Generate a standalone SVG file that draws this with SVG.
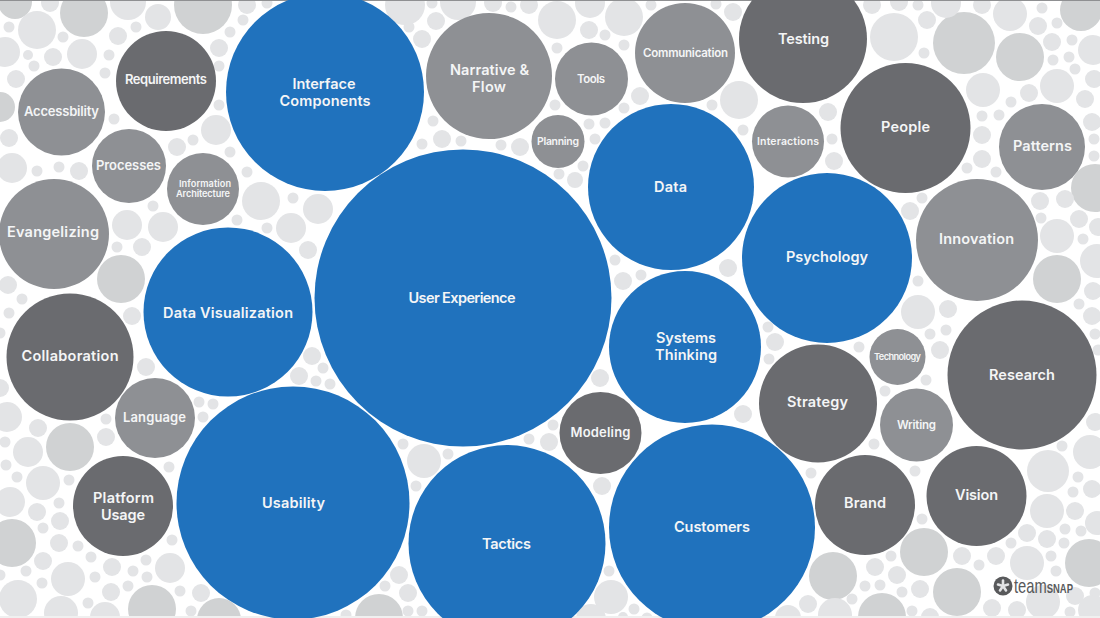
<svg xmlns="http://www.w3.org/2000/svg" width="1100" height="618" viewBox="0 0 1100 618">
<style>
.l{fill:#e3e4e6}.d{fill:#d0d2d3}
.blue{fill:#2072bd}.dark{fill:#6a6b6f}.mid{fill:#8e9094}
text{font-family:"Inter","Liberation Sans",sans-serif;font-weight:600;fill:#f4f5f6;text-anchor:middle}
.s13{font-size:14.5px}.s12{font-size:13px}.s10{font-size:11.5px}.s9{font-size:10.5px}.s8{font-size:9.2px}
.logo{text-anchor:start;font-family:"Liberation Sans",sans-serif;font-weight:400;font-size:21px;fill:#58595b}
.logo tspan{font-weight:700;font-size:13.5px}
</style>
<rect width="1100" height="618" fill="#fff"/>
<g id="background">
<g class="d">
<circle cx="15" cy="2" r="17"/><circle cx="84" cy="13" r="24"/><circle cx="203" cy="5" r="29"/><circle cx="0" cy="107" r="15"/><circle cx="121" cy="279" r="24"/><circle cx="70" cy="447" r="24"/><circle cx="12" cy="543" r="24"/><circle cx="152" cy="609" r="24"/><circle cx="219" cy="620" r="22"/><circle cx="379" cy="618" r="24"/><circle cx="1081" cy="10" r="21"/><circle cx="964" cy="43" r="31"/><circle cx="1020" cy="57" r="24"/><circle cx="1095" cy="188" r="24"/><circle cx="1057" cy="279" r="24"/><circle cx="1089" cy="563" r="24"/><circle cx="924" cy="552" r="24"/><circle cx="833" cy="576" r="24"/><circle cx="957" cy="592" r="24"/><circle cx="882" cy="617" r="24"/>
</g>
<g class="l">
<circle cx="37" cy="30" r="19"/><circle cx="50" cy="3" r="9"/><circle cx="128" cy="2" r="18"/><circle cx="158" cy="17" r="13"/><circle cx="247" cy="5" r="9"/><circle cx="243" cy="20" r="5.5"/><circle cx="230" cy="32" r="5.5"/><circle cx="267" cy="3" r="5.5"/><circle cx="9" cy="27" r="5.5"/><circle cx="5" cy="52" r="15"/><circle cx="28" cy="55" r="5"/><circle cx="34" cy="66" r="5.5"/><circle cx="53" cy="57" r="9"/><circle cx="63" cy="37" r="5.5"/><circle cx="82" cy="54" r="15"/><circle cx="118" cy="36" r="9"/><circle cx="136" cy="27" r="5.5"/><circle cx="109" cy="55" r="5.5"/><circle cx="105" cy="73" r="5.5"/><circle cx="16" cy="79" r="9"/><circle cx="219" cy="48" r="9"/><circle cx="219" cy="66" r="5.5"/><circle cx="219" cy="105" r="5.5"/><circle cx="216" cy="130" r="15"/><circle cx="193" cy="140" r="5.5"/><circle cx="177" cy="147" r="9"/><circle cx="230" cy="152" r="5.5"/><circle cx="247" cy="172" r="5.5"/><circle cx="114" cy="119" r="5.5"/><circle cx="9" cy="138" r="9"/><circle cx="12" cy="168" r="15"/><circle cx="37" cy="171" r="5.5"/><circle cx="59" cy="167" r="5.5"/><circle cx="79" cy="171" r="9"/><circle cx="153" cy="206" r="5.5"/><circle cx="127" cy="225" r="15"/><circle cx="163" cy="227" r="15"/><circle cx="117" cy="247" r="5.5"/><circle cx="142" cy="247" r="9"/><circle cx="8" cy="285" r="9"/><circle cx="22" cy="299" r="5.5"/><circle cx="237" cy="220" r="5.5"/><circle cx="261" cy="201" r="19"/><circle cx="293" cy="198" r="5.5"/><circle cx="267" cy="228" r="5.5"/><circle cx="291" cy="228" r="15"/><circle cx="318" cy="209" r="15"/><circle cx="308" cy="250" r="9"/>
<circle cx="9" cy="313" r="5.5"/><circle cx="0" cy="333" r="5.5"/><circle cx="132" cy="316" r="9"/><circle cx="146" cy="367" r="9"/><circle cx="0" cy="388" r="9"/><circle cx="7" cy="417" r="15"/><circle cx="38" cy="428" r="9"/><circle cx="106" cy="419" r="5.5"/><circle cx="199" cy="402" r="5.5"/><circle cx="213" cy="404" r="5.5"/><circle cx="203" cy="417" r="5.5"/><circle cx="312" cy="356" r="9"/><circle cx="323" cy="368" r="5.5"/><circle cx="299" cy="376" r="9"/><circle cx="316" cy="381" r="5.5"/><circle cx="330" cy="384" r="5.5"/>
<circle cx="5" cy="442" r="5.5"/><circle cx="28" cy="452" r="15"/><circle cx="106" cy="437" r="9"/><circle cx="6" cy="465" r="5.5"/><circle cx="17" cy="477" r="5.5"/><circle cx="43" cy="483" r="17"/><circle cx="69" cy="480" r="5.5"/><circle cx="169" cy="467" r="5.5"/><circle cx="10" cy="502" r="15"/><circle cx="59" cy="503" r="5.5"/><circle cx="37" cy="512" r="9"/><circle cx="60" cy="521" r="9"/><circle cx="43" cy="528" r="5.5"/><circle cx="59" cy="543" r="9"/><circle cx="78" cy="546" r="5.5"/><circle cx="172" cy="540" r="5.5"/><circle cx="91" cy="557" r="5.5"/><circle cx="43" cy="561" r="9"/><circle cx="26" cy="571" r="5.5"/><circle cx="0" cy="575" r="5.5"/><circle cx="68" cy="579" r="17"/><circle cx="112" cy="567" r="9"/><circle cx="146" cy="560" r="5.5"/><circle cx="133" cy="571" r="5.5"/><circle cx="95" cy="577" r="5.5"/><circle cx="147" cy="577" r="5.5"/><circle cx="170" cy="568" r="15"/><circle cx="42" cy="583" r="5.5"/><circle cx="18" cy="599" r="19"/><circle cx="111" cy="592" r="9"/><circle cx="128" cy="586" r="5.5"/><circle cx="180" cy="591" r="5.5"/><circle cx="201" cy="593" r="9"/><circle cx="61" cy="613" r="17"/><circle cx="88" cy="603" r="5.5"/><circle cx="105" cy="617" r="15"/><circle cx="191" cy="611" r="5.5"/>
<circle cx="403" cy="444" r="5.5"/><circle cx="424" cy="461" r="17"/><circle cx="448" cy="454" r="5.5"/><circle cx="416" cy="486" r="5.5"/><circle cx="399" cy="575" r="9"/><circle cx="385" cy="586" r="5.5"/><circle cx="408" cy="593" r="9"/><circle cx="346" cy="615" r="5.5"/><circle cx="408" cy="611" r="5.5"/><circle cx="422" cy="611" r="5.5"/><circle cx="600" cy="378" r="9"/><circle cx="553" cy="425" r="5.5"/><circle cx="529" cy="439" r="5.5"/><circle cx="549" cy="442" r="9"/><circle cx="602" cy="486" r="9"/><circle cx="609" cy="571" r="5.5"/><circle cx="611" cy="597" r="17"/><circle cx="634" cy="609" r="5.5"/><circle cx="591" cy="619" r="15"/><circle cx="623" cy="617" r="5"/><circle cx="647" cy="618" r="5.5"/>
<circle cx="405" cy="5" r="20"/><circle cx="436" cy="21" r="9"/><circle cx="409" cy="27" r="5.5"/><circle cx="422" cy="39" r="9"/><circle cx="432" cy="3" r="5.5"/><circle cx="458" cy="2" r="18"/><circle cx="493" cy="3" r="9"/><circle cx="511" cy="7" r="5.5"/><circle cx="529" cy="5" r="9"/><circle cx="557" cy="20" r="19"/><circle cx="590" cy="3" r="15"/><circle cx="589" cy="30" r="9"/><circle cx="624" cy="17" r="19"/><circle cx="651" cy="5" r="5.5"/><circle cx="605" cy="35" r="5.5"/><circle cx="557" cy="48" r="5.5"/><circle cx="624" cy="45" r="5.5"/><circle cx="716" cy="4" r="5.5"/><circle cx="733" cy="12" r="9"/><circle cx="640" cy="96" r="9"/><circle cx="555" cy="105" r="5.5"/><circle cx="624" cy="108" r="5.5"/><circle cx="739" cy="100" r="19"/><circle cx="712" cy="105" r="5.5"/><circle cx="433" cy="121" r="5.5"/><circle cx="442" cy="139" r="9"/><circle cx="461" cy="141" r="5.5"/><circle cx="422" cy="144" r="5.5"/><circle cx="501" cy="145" r="5.5"/><circle cx="520" cy="147" r="9"/><circle cx="589" cy="124" r="5.5"/><circle cx="605" cy="123" r="5.5"/><circle cx="595" cy="139" r="5.5"/><circle cx="583" cy="166" r="5.5"/><circle cx="559" cy="174" r="5.5"/><circle cx="575" cy="180" r="8"/><circle cx="743" cy="130" r="5.5"/>
<circle cx="615" cy="260" r="5.5"/><circle cx="623" cy="281" r="9"/><circle cx="641" cy="275" r="5.5"/><circle cx="728" cy="268" r="9"/><circle cx="768" cy="327" r="5.5"/><circle cx="775" cy="342" r="9"/><circle cx="769" cy="359" r="5.5"/><circle cx="743" cy="414" r="9"/>
<circle cx="872" cy="5" r="9"/><circle cx="899" cy="2" r="9"/><circle cx="918" cy="5" r="5.5"/><circle cx="946" cy="3" r="15"/><circle cx="982" cy="5" r="9"/><circle cx="1010" cy="14" r="17"/><circle cx="1042" cy="8" r="5.5"/><circle cx="894" cy="37" r="24"/><circle cx="927" cy="20" r="9"/><circle cx="924" cy="53" r="5.5"/><circle cx="1038" cy="26" r="9"/><circle cx="1057" cy="23" r="5.5"/><circle cx="1052" cy="42" r="9"/><circle cx="1072" cy="40" r="5.5"/><circle cx="1053" cy="60" r="5.5"/><circle cx="1069" cy="57" r="5.5"/><circle cx="1075" cy="69" r="5.5"/><circle cx="1093" cy="50" r="15"/><circle cx="1094" cy="79" r="9"/><circle cx="983" cy="90" r="17"/><circle cx="1029" cy="93" r="9"/><circle cx="1057" cy="86" r="17"/><circle cx="1011" cy="102" r="5.5"/><circle cx="1085" cy="99" r="9"/><circle cx="982" cy="116" r="5.5"/><circle cx="999" cy="115" r="5.5"/><circle cx="1092" cy="122" r="9"/><circle cx="982" cy="135" r="9"/><circle cx="982" cy="159" r="9"/><circle cx="967" cy="168" r="5.5"/><circle cx="996" cy="172" r="5.5"/><circle cx="1094" cy="139" r="5.5"/><circle cx="1094" cy="156" r="5.5"/><circle cx="828" cy="112" r="9"/><circle cx="832" cy="139" r="5.5"/><circle cx="834" cy="161" r="9"/><circle cx="1040" cy="201" r="9"/><circle cx="1065" cy="199" r="9"/><circle cx="1041" cy="218" r="5.5"/><circle cx="1079" cy="219" r="9"/><circle cx="922" cy="198" r="5.5"/><circle cx="910" cy="211" r="9"/><circle cx="1057" cy="236" r="17"/><circle cx="1083" cy="239" r="5.5"/><circle cx="1098" cy="227" r="9"/><circle cx="1097" cy="261" r="17"/><circle cx="918" cy="281" r="5.5"/><circle cx="1093" cy="291" r="9"/>
<circle cx="918" cy="312" r="17"/><circle cx="948" cy="309" r="9"/><circle cx="930" cy="334" r="5.5"/><circle cx="946" cy="330" r="5.5"/><circle cx="940" cy="350" r="9"/><circle cx="859" cy="347" r="5.5"/><circle cx="926" cy="380" r="5.5"/><circle cx="885" cy="391" r="5.5"/><circle cx="1079" cy="304" r="5.5"/><circle cx="1092" cy="316" r="9"/><circle cx="1095" cy="334" r="5.5"/><circle cx="1098" cy="350" r="5.5"/><circle cx="1095" cy="422" r="9"/><circle cx="1062" cy="446" r="5.5"/><circle cx="1090" cy="452" r="17"/><circle cx="874" cy="444" r="5.5"/><circle cx="1048" cy="471" r="21"/><circle cx="1078" cy="477" r="5.5"/><circle cx="1092" cy="489" r="9"/><circle cx="1073" cy="492" r="5.5"/><circle cx="811" cy="473" r="5.5"/><circle cx="915" cy="471" r="5.5"/><circle cx="1047" cy="511" r="17"/><circle cx="1075" cy="511" r="9"/><circle cx="1097" cy="523" r="12"/><circle cx="922" cy="519" r="5.5"/><circle cx="1027" cy="533" r="9"/><circle cx="1065" cy="529" r="5.5"/><circle cx="1081" cy="531" r="5.5"/><circle cx="1047" cy="539" r="9"/><circle cx="1011" cy="543" r="5.5"/><circle cx="1064" cy="543" r="5.5"/><circle cx="1027" cy="563" r="17"/><circle cx="996" cy="556" r="9"/><circle cx="962" cy="556" r="9"/><circle cx="1051" cy="556" r="5.5"/><circle cx="979" cy="565" r="5.5"/><circle cx="1056" cy="571" r="5.5"/><circle cx="891" cy="556" r="5.5"/><circle cx="875" cy="567" r="9"/><circle cx="897" cy="575" r="9"/><circle cx="880" cy="585" r="5.5"/><circle cx="865" cy="586" r="5.5"/><circle cx="920" cy="589" r="9"/><circle cx="902" cy="592" r="5.5"/><circle cx="1075" cy="596" r="9"/><circle cx="1095" cy="593" r="5.5"/><circle cx="852" cy="599" r="5.5"/><circle cx="808" cy="604" r="9"/><circle cx="835" cy="615" r="17"/><circle cx="788" cy="618" r="13"/><circle cx="912" cy="611" r="5.5"/><circle cx="930" cy="617" r="9"/><circle cx="992" cy="608" r="9"/><circle cx="1017" cy="610" r="9"/><circle cx="1043" cy="602" r="17"/><circle cx="1070" cy="612" r="5.5"/><circle cx="1093" cy="610" r="15"/>
</g>
<rect x="0" y="0" width="1100" height="1" fill="#8f9092"/>
<rect x="0" y="616" width="1100" height="2" fill="#f0f0f0"/>
</g>
<g id="connectors"/>
<g id="nodes">
<g id="n-interface"><circle class="blue" cx="325" cy="92" r="99"/><text class="s13" x="324" y="89" textLength="63">Interface</text><text class="s13" x="325" y="106" textLength="91">Components</text></g>
<g id="n-ux"><circle class="blue" cx="463" cy="298" r="148.500"/><text class="s13" x="462" y="303" textLength="107">User Experience</text></g>
<g id="n-data"><circle class="blue" cx="671" cy="187" r="83"/><text class="s13" x="670.500" y="192" textLength="33">Data</text></g>
<g id="n-psychology"><circle class="blue" cx="827" cy="258" r="85"/><text class="s13" x="827" y="262" textLength="82">Psychology</text></g>
<g id="n-systems"><circle class="blue" cx="685" cy="347" r="76"/><text class="s13" x="686" y="343" textLength="60">Systems</text><text class="s13" x="686" y="360" textLength="62">Thinking</text></g>
<g id="n-dataviz"><circle class="blue" cx="228" cy="312" r="84.500"/><text class="s13" x="228" y="318" textLength="130">Data Visualization</text></g>
<g id="n-usability"><circle class="blue" cx="293" cy="503" r="116.500"/><text class="s13" x="293.500" y="508" textLength="63">Usability</text></g>
<g id="n-tactics"><circle class="blue" cx="507" cy="543.500" r="98.500"/><text class="s13" x="506.500" y="548.500" textLength="49">Tactics</text></g>
<g id="n-customers"><circle class="blue" cx="712" cy="527.500" r="103"/><text class="s13" x="712" y="532" textLength="76">Customers</text></g>
<g id="n-requirements"><circle class="dark" cx="166" cy="81" r="50"/><text class="s12" x="166" y="84" textLength="82">Requirements</text></g>
<g id="n-testing"><circle class="dark" cx="803" cy="39" r="64"/><text class="s13" x="803.500" y="44" textLength="51">Testing</text></g>
<g id="n-people"><circle class="dark" cx="905.500" cy="128" r="65"/><text class="s13" x="905.500" y="132" textLength="49">People</text></g>
<g id="n-research"><circle class="dark" cx="1022" cy="375" r="74.500"/><text class="s13" x="1022" y="380" textLength="66">Research</text></g>
<g id="n-strategy"><circle class="dark" cx="818" cy="403.500" r="59"/><text class="s13" x="817.500" y="407" textLength="61">Strategy</text></g>
<g id="n-brand"><circle class="dark" cx="865" cy="505" r="50"/><text class="s13" x="865" y="508" textLength="42">Brand</text></g>
<g id="n-vision"><circle class="dark" cx="976.500" cy="496" r="50"/><text class="s13" x="976.500" y="500" textLength="43">Vision</text></g>
<g id="n-modeling"><circle class="dark" cx="600.500" cy="433" r="41"/><text class="s12" x="600.500" y="437" textLength="60">Modeling</text></g>
<g id="n-collaboration"><circle class="dark" cx="70" cy="357" r="63.500"/><text class="s13" x="70" y="361" textLength="97">Collaboration</text></g>
<g id="n-platform"><circle class="dark" cx="123" cy="506" r="50"/><text class="s13" x="123.500" y="503" textLength="61">Platform</text><text class="s13" x="123" y="520" textLength="44">Usage</text></g>
<g id="n-accessbility"><circle class="mid" cx="61.500" cy="112" r="43.500"/><text class="s12" x="61.500" y="116" textLength="75">Accessbility</text></g>
<g id="n-processes"><circle class="mid" cx="129" cy="166" r="37"/><text class="s12" x="128.500" y="170" textLength="65">Processes</text></g>
<g id="n-ia"><circle class="mid" cx="203" cy="189" r="36"/><text class="s8" x="205" y="187" textLength="52">Information</text><text class="s8" x="203" y="197" textLength="54">Architecture</text></g>
<g id="n-evangelizing"><circle class="mid" cx="54" cy="234" r="55"/><text class="s13" x="53" y="237" textLength="92">Evangelizing</text></g>
<g id="n-language"><circle class="mid" cx="155" cy="418" r="40"/><text class="s12" x="154.500" y="421.500" textLength="63">Language</text></g>
<g id="n-narrative"><circle class="mid" cx="489" cy="76" r="63"/><text class="s13" x="489.500" y="75" textLength="79">Narrative &amp;</text><text class="s13" x="489" y="92" textLength="34">Flow</text></g>
<g id="n-tools"><circle class="mid" cx="591.500" cy="79" r="36.500"/><text class="s10" x="591" y="83" textLength="28">Tools</text></g>
<g id="n-planning"><circle class="mid" cx="558" cy="141.500" r="26.500"/><text class="s9" x="558" y="145" textLength="42">Planning</text></g>
<g id="n-communication"><circle class="mid" cx="685" cy="53" r="50"/><text class="s10" x="685.500" y="57" textLength="85">Communication</text></g>
<g id="n-interactions"><circle class="mid" cx="788" cy="141.500" r="36"/><text class="s9" x="788" y="145" textLength="62">Interactions</text></g>
<g id="n-patterns"><circle class="mid" cx="1042" cy="147" r="43"/><text class="s13" x="1042.500" y="150.500" textLength="59">Patterns</text></g>
<g id="n-innovation"><circle class="mid" cx="977" cy="240" r="61"/><text class="s13" x="976.500" y="244" textLength="75">Innovation</text></g>
<g id="n-technology"><circle class="mid" cx="897.500" cy="357" r="28"/><text class="s8" x="897.500" y="360" textLength="47">Technology</text></g>
<g id="n-writing"><circle class="mid" cx="916.500" cy="425" r="36.500"/><text class="s10" x="916.500" y="429" textLength="39">Writing</text></g>
</g>
<g id="logo">
<circle cx="1003" cy="586" r="9.500" fill="#58595b"/>
<g stroke="#e2e3e5" stroke-width="2.600" stroke-linecap="round"><line x1="1003" y1="586" x2="1003" y2="580.500"/><line x1="1003" y1="586" x2="1008" y2="584.500"/><line x1="1003" y1="586" x2="1006" y2="590.500"/><line x1="1003" y1="586" x2="1000" y2="590.500"/><line x1="1003" y1="586" x2="998" y2="584.500"/></g>
<text class="logo" x="1014" y="593" textLength="59" lengthAdjust="spacingAndGlyphs">team<tspan>SNAP</tspan></text>
</g>
</svg>
